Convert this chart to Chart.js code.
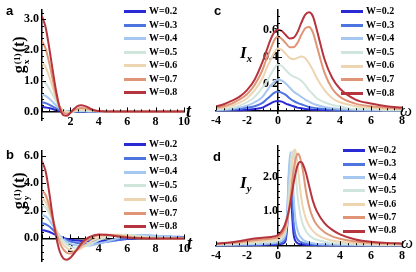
<!DOCTYPE html>
<html>
<head>
<meta charset="utf-8">
<script src="https://cdn.jsdelivr.net/npm/chart.js@4.4.1/dist/chart.umd.min.js"></script>
<style>
  body { margin: 0; width: 416px; height: 272px; position: relative; background: #fff; overflow: hidden; font-family: "Liberation Serif", serif; }
  canvas { position: absolute; }
  .t { position: absolute; color: #000; font-weight: bold; white-space: nowrap; line-height: 1; }
  .panel { font-family: "Liberation Sans", sans-serif; font-size: 13px; }
  .leg { position: absolute; font-size: 10px; font-weight: bold; line-height: 1; white-space: nowrap; }
  .leg i { display: inline-block; width: 22px; height: 3px; vertical-align: middle; margin-right: 3px; }
  .rot { transform: rotate(-90deg); transform-origin: center center; }
  .ss { display: inline-block; font-size: 58%; line-height: 0.95; vertical-align: -0.5em; text-align: left; margin: 0 1px; }
  .ss span { display: block; }
  sub { font-size: 62%; line-height: 0; }
</style>
</head>
<body>
<canvas id="ca" width="208" height="136" style="left:0;top:0"></canvas>
<canvas id="cb" width="208" height="136" style="left:0;top:136px"></canvas>
<canvas id="cc" width="208" height="136" style="left:208px;top:0"></canvas>
<canvas id="cd" width="208" height="136" style="left:208px;top:136px"></canvas>

<div class="t panel" style="left:6px;top:4px">a</div>
<div class="t panel" style="left:6px;top:148px">b</div>
<div class="t panel" style="left:214px;top:4px">c</div>
<div class="t panel" style="left:213px;top:150px">d</div>

<div class="t rot" style="left:-7px;top:45px;font-size:16px;width:56px;text-align:center">g<span class="ss"><span>(1)</span><span>x</span></span>(t)</div>
<div class="t rot" style="left:-7px;top:181px;font-size:16px;width:56px;text-align:center">g<span class="ss"><span>(1)</span><span>y</span></span>(t)</div>
<div class="t" style="left:186px;top:102px;font-size:18px;font-style:italic">t</div>
<div class="t" style="left:187px;top:234px;font-size:18px;font-style:italic">t</div>
<div class="t" style="left:240px;top:44px;font-size:17px;font-style:italic">I<sub>x</sub></div>
<div class="t" style="left:240px;top:174px;font-size:17px;font-style:italic">I<sub>y</sub></div>
<div class="t" style="left:400px;top:102px;font-size:17px;font-style:italic;font-weight:normal">ω</div>
<div class="t" style="left:401px;top:234px;font-size:17px;font-style:italic;font-weight:normal">ω</div>

<div id="legends"></div>

<script>
const W = [0.2, 0.3, 0.4, 0.5, 0.6, 0.7, 0.8];
const colors = ['#2a2ad4', '#4e74e0', '#a6c7f0', '#d0e5dc', '#eed5b2', '#df9576', '#b5343d'];

// panel a/b time grid
const tGrid = [0, 0.25, 0.5, 0.75, 1, 1.25, 1.5, 1.75, 2, 2.25, 2.5, 2.75, 3, 3.25, 3.5, 3.75, 4,
  4.5, 5, 5.5, 6, 6.5, 7, 7.5, 8, 9, 10];

// g_x^(1)(t), one row per W
const gxVals = [
  [0.15, 0.13, 0.11, 0.08, 0.04, 0.02, 0.005, 0, 0, 0, 0, 0, 0, 0, 0, 0, 0, 0, 0, 0, 0, 0, 0, 0, 0, 0, 0],
  [0.3, 0.27, 0.22, 0.16, 0.1, 0.04, 0.01, 0, 0, 0, 0, 0, 0, 0, 0, 0, 0, 0, 0, 0, 0, 0, 0, 0, 0, 0, 0],
  [0.55, 0.51, 0.42, 0.31, 0.19, 0.09, 0.03, 0, -0.01, 0, 0.01, 0.01, 0.01, 0, 0, 0, 0, 0, 0, 0, 0, 0, 0, 0, 0, 0, 0],
  [1.0, 0.92, 0.75, 0.54, 0.33, 0.15, 0.05, 0, -0.01, 0, 0.02, 0.03, 0.03, 0.02, 0.01, 0.01, 0, 0, 0, 0, 0, 0, 0, 0, 0, 0, 0],
  [1.6, 1.45, 1.15, 0.78, 0.43, 0.16, 0.02, -0.03, -0.02, 0.01, 0.04, 0.06, 0.06, 0.05, 0.03, 0.02, 0.01, 0, 0, 0, 0, 0, 0, 0, 0, 0, 0],
  [2.3, 2.05, 1.6, 1.05, 0.52, 0.13, -0.05, -0.08, -0.03, 0.04, 0.09, 0.11, 0.1, 0.08, 0.05, 0.02, 0.01, 0, 0, 0, 0, 0, 0, 0, 0, 0, 0],
  [3.1, 2.75, 2.1, 1.35, 0.65, 0.12, -0.12, -0.14, -0.05, 0.08, 0.17, 0.2, 0.18, 0.13, 0.07, 0.03, 0.01, 0, 0, 0, 0, 0, 0, 0, 0, 0, 0]
];

// g_y^(1)(t)
const gyVals = [
  [0.6, 0.56, 0.48, 0.37, 0.24, 0.12, 0.03, -0.04, -0.09, -0.13, -0.16, -0.18, -0.2, -0.21, -0.21, -0.21, -0.2, -0.18, -0.14, -0.1, -0.05, 0, 0.04, 0.07, 0.09, 0.1, 0.08],
  [1.1, 1.03, 0.88, 0.65, 0.4, 0.17, 0, -0.13, -0.22, -0.28, -0.33, -0.36, -0.38, -0.39, -0.38, -0.36, -0.33, -0.27, -0.18, -0.09, 0, 0.07, 0.12, 0.15, 0.16, 0.14, 0.1],
  [1.7, 1.6, 1.35, 0.95, 0.55, 0.2, -0.05, -0.25, -0.38, -0.47, -0.52, -0.55, -0.55, -0.53, -0.5, -0.45, -0.38, -0.25, -0.1, 0.05, 0.17, 0.23, 0.25, 0.24, 0.2, 0.12, 0.05],
  [2.45, 2.25, 1.85, 1.25, 0.65, 0.15, -0.2, -0.45, -0.6, -0.68, -0.7, -0.67, -0.6, -0.5, -0.38, -0.25, -0.13, 0.07, 0.2, 0.27, 0.27, 0.22, 0.16, 0.1, 0.06, 0.02, 0],
  [2.9, 2.65, 2.1, 1.35, 0.6, -0.05, -0.45, -0.7, -0.85, -0.9, -0.85, -0.72, -0.55, -0.37, -0.2, -0.06, 0.05, 0.2, 0.27, 0.26, 0.2, 0.13, 0.08, 0.04, 0.02, 0, 0],
  [3.5, 3.15, 2.4, 1.4, 0.45, -0.3, -0.8, -1.05, -1.1, -1.0, -0.8, -0.55, -0.3, -0.1, 0.05, 0.15, 0.22, 0.27, 0.25, 0.18, 0.11, 0.06, 0.03, 0.01, 0, 0, 0],
  [5.6, 4.9, 3.4, 1.6, 0.1, -0.95, -1.45, -1.55, -1.4, -1.1, -0.75, -0.4, -0.12, 0.05, 0.17, 0.25, 0.28, 0.27, 0.2, 0.12, 0.06, 0.03, 0.01, 0, 0, 0, 0]
];

// panel c frequency grid and I_x
const wGridC = [-4, -3.5, -3, -2.5, -2, -1.5, -1, -0.75, -0.5, -0.25, 0, 0.25, 0.5, 0.75, 1, 1.25, 1.5, 1.75, 2, 2.25, 2.5, 3, 3.5, 4, 5, 6, 7, 8];
const ixVals = [
  [0, 0, 0, 0, 0.005, 0.01, 0.02, 0.035, 0.05, 0.065, 0.07, 0.065, 0.05, 0.04, 0.03, 0.02, 0.015, 0.01, 0.008, 0.005, 0.004, 0.002, 0, 0, 0, 0, 0, 0],
  [0, 0, 0.005, 0.01, 0.02, 0.03, 0.055, 0.08, 0.105, 0.13, 0.14, 0.13, 0.115, 0.09, 0.07, 0.055, 0.045, 0.035, 0.025, 0.02, 0.015, 0.01, 0.005, 0, 0, 0, 0, 0],
  [0, 0.005, 0.01, 0.02, 0.035, 0.06, 0.1, 0.14, 0.18, 0.21, 0.23, 0.22, 0.2, 0.17, 0.14, 0.12, 0.1, 0.08, 0.065, 0.05, 0.04, 0.025, 0.015, 0.01, 0.005, 0, 0, 0],
  [0.01, 0.01, 0.02, 0.035, 0.06, 0.1, 0.17, 0.21, 0.26, 0.31, 0.34, 0.33, 0.3, 0.27, 0.25, 0.24, 0.22, 0.19, 0.15, 0.12, 0.09, 0.06, 0.04, 0.03, 0.01, 0.01, 0, 0],
  [0.01, 0.02, 0.035, 0.055, 0.09, 0.15, 0.24, 0.31, 0.37, 0.43, 0.46, 0.45, 0.42, 0.39, 0.38, 0.39, 0.4, 0.39, 0.35, 0.3, 0.24, 0.15, 0.09, 0.06, 0.03, 0.02, 0.01, 0.01],
  [0.02, 0.03, 0.05, 0.08, 0.12, 0.19, 0.3, 0.38, 0.45, 0.52, 0.55, 0.53, 0.5, 0.47, 0.47, 0.5, 0.56, 0.61, 0.62, 0.58, 0.48, 0.28, 0.16, 0.1, 0.05, 0.03, 0.02, 0.01],
  [0.03, 0.045, 0.07, 0.1, 0.15, 0.23, 0.36, 0.44, 0.52, 0.58, 0.6, 0.59, 0.56, 0.535, 0.54, 0.58, 0.65, 0.71, 0.73, 0.7, 0.6, 0.38, 0.24, 0.16, 0.08, 0.05, 0.03, 0.02]
];

// panel d frequency grid and I_y
const wGridD = [-4, -3, -2, -1.5, -1, -0.5, 0, 0.25, 0.4, 0.5, 0.6, 0.7, 0.8, 0.9, 1.0, 1.1, 1.2, 1.3, 1.4, 1.5, 1.6, 1.8, 2.0, 2.25, 2.5, 3, 3.5, 4, 5, 6, 7, 8];
const iyVals = [
  [0, 0, 0, 0.005, 0.01, 0.015, 0.025, 0.04, 0.07, 0.15, 0.6, 1.6, 2.1, 1.0, 0.35, 0.15, 0.08, 0.05, 0.035, 0.025, 0.02, 0.012, 0.008, 0.005, 0.004, 0.002, 0, 0, 0, 0, 0, 0],
  [0, 0.01, 0.015, 0.02, 0.025, 0.035, 0.05, 0.08, 0.13, 0.25, 0.9, 2.0, 2.45, 1.6, 0.7, 0.35, 0.22, 0.15, 0.11, 0.09, 0.07, 0.05, 0.035, 0.025, 0.02, 0.01, 0, 0, 0, 0, 0, 0],
  [0.01, 0.015, 0.025, 0.03, 0.04, 0.06, 0.09, 0.14, 0.22, 0.38, 1.1, 2.2, 2.72, 2.5, 1.5, 0.85, 0.55, 0.38, 0.28, 0.22, 0.17, 0.11, 0.08, 0.06, 0.04, 0.03, 0.02, 0.015, 0.01, 0, 0, 0],
  [0.02, 0.03, 0.05, 0.06, 0.08, 0.1, 0.14, 0.21, 0.3, 0.42, 0.75, 1.45, 2.15, 2.7, 2.75, 2.35, 1.75, 1.3, 1.0, 0.78, 0.62, 0.42, 0.3, 0.21, 0.16, 0.1, 0.07, 0.05, 0.03, 0.02, 0.01, 0.01],
  [0.03, 0.05, 0.08, 0.1, 0.12, 0.14, 0.18, 0.26, 0.36, 0.48, 0.7, 1.15, 1.75, 2.3, 2.68, 2.8, 2.6, 2.2, 1.75, 1.4, 1.12, 0.78, 0.58, 0.42, 0.32, 0.2, 0.14, 0.1, 0.06, 0.04, 0.03, 0.02],
  [0.04, 0.07, 0.12, 0.15, 0.17, 0.19, 0.24, 0.33, 0.45, 0.57, 0.75, 1.0, 1.35, 1.75, 2.15, 2.45, 2.63, 2.68, 2.6, 2.42, 2.2, 1.6, 1.15, 0.8, 0.6, 0.38, 0.26, 0.19, 0.11, 0.07, 0.05, 0.04],
  [0.05, 0.09, 0.16, 0.2, 0.22, 0.24, 0.3, 0.42, 0.55, 0.68, 0.82, 1.02, 1.25, 1.52, 1.8, 2.04, 2.24, 2.38, 2.44, 2.44, 2.38, 2.12, 1.75, 1.3, 1.0, 0.65, 0.45, 0.32, 0.17, 0.1, 0.07, 0.05]
];

// tick labels
const tTicks = [2, 4, 6, 8, 10];
const gxTicks = [0, 1, 2, 3];
const gyTicks = [0, 2, 4, 6];
const wTicks = [-4, -2, 0, 2, 4, 6, 8];
const ixTicks = [0.2, 0.4, 0.6];
const iyTicks = [1, 2];

const tickFont = { family: 'Liberation Serif', size: 12, weight: 'bold' };

// Mathematica-style inward ticks drawn through the chart's own scales
const innerTicks = {
  id: 'innerTicks',
  afterDraw(chart, args, opts) {
    const { ctx, scales: { x, y } } = chart;
    const y0 = y.getPixelForValue(0);
    const x0 = opts.yAtZero ? x.getPixelForValue(0) : chart.chartArea.left;
    ctx.save();
    ctx.strokeStyle = '#000';
    ctx.lineWidth = 1;
    const drawX = (step, len) => {
      for (let v = Math.ceil(x.min / step) * step; v <= x.max + 1e-9; v += step) {
        const px = Math.round(x.getPixelForValue(v)) + 0.5;
        ctx.beginPath(); ctx.moveTo(px, y0); ctx.lineTo(px, y0 - len); ctx.stroke();
      }
    };
    const drawY = (step, len) => {
      for (let v = Math.ceil(y.min / step) * step; v <= y.max + 1e-9; v += step) {
        const py = Math.round(y.getPixelForValue(v)) + 0.5;
        ctx.beginPath(); ctx.moveTo(x0, py); ctx.lineTo(x0 + len, py); ctx.stroke();
      }
    };
    drawX(opts.xMinor, 2); drawX(opts.xMajor, 4);
    drawY(opts.yMinor, 2); drawY(opts.yMajor, 4);
    ctx.restore();
  }
};

function makePanel(id, xs, rows, cfg) {
  const datasets = rows.map((row, i) => ({
    label: 'W=' + W[i],
    data: row.map((v, k) => ({ x: xs[k], y: v })),
    borderColor: colors[i],
    borderWidth: 2,
    pointRadius: 0,
    cubicInterpolationMode: 'monotone',
    order: W.length - i
  }));
  const axisBorder = { display: true, color: '#000', width: 1.5 };
  new Chart(document.getElementById(id), {
    type: 'line',
    data: { datasets },
    plugins: [innerTicks],
    options: {
      responsive: false,
      animation: false,
      layout: { padding: cfg.pad },
      plugins: { legend: { display: false }, tooltip: { enabled: false }, innerTicks: cfg.ticks },
      scales: {
        x: {
          type: 'linear', min: cfg.xMin, max: cfg.xMax,
          position: { y: 0 },
          afterBuildTicks: s => { s.ticks = cfg.xTicks.map(v => ({ value: v })); },
          ticks: { font: tickFont, color: '#000', maxRotation: 0, padding: 3, autoSkip: false, callback: v => String(v) },
          grid: { display: false, drawTicks: false },
          border: axisBorder
        },
        y: {
          type: 'linear', min: cfg.yMin, max: cfg.yMax,
          position: cfg.ticks.yAtZero ? { x: 0 } : 'left',
          afterFit: cfg.ticks.yAtZero ? undefined : s => { s.width = cfg.yWidth; },
          afterBuildTicks: s => { s.ticks = cfg.yTicks.map(v => ({ value: v })); },
          ticks: { font: tickFont, color: '#000', padding: 3, autoSkip: false, callback: v => v.toFixed(1) },
          grid: { display: false, drawTicks: false },
          border: axisBorder
        }
      }
    }
  });
}

makePanel('ca', tGrid, gxVals, {
  xMin: 0, xMax: 10, yMin: -0.28, yMax: 3.3, yWidth: 42,
  pad: { left: 0, right: 24, top: 5, bottom: 16 },
  xTicks: tTicks, yTicks: gxTicks,
  ticks: { xMajor: 2, xMinor: 0.5, yMajor: 1, yMinor: 0.2, yAtZero: false }
});
makePanel('cb', tGrid, gyVals, {
  xMin: 0, xMax: 10, yMin: -1.7, yMax: 6.35, yWidth: 42,
  pad: { left: 0, right: 24, top: 15, bottom: 3 },
  xTicks: tTicks, yTicks: gyTicks,
  ticks: { xMajor: 2, xMinor: 0.5, yMajor: 2, yMinor: 0.5, yAtZero: false }
});
makePanel('cc', wGridC, ixVals, {
  xMin: -4, xMax: 8, yMin: -0.02, yMax: 0.745,
  pad: { left: 8, right: 14, top: 2, bottom: 23 },
  xTicks: wTicks, yTicks: ixTicks,
  ticks: { xMajor: 2, xMinor: 0.5, yMajor: 0.2, yMinor: 0.05, yAtZero: true }
});
makePanel('cd', wGridD, iyVals, {
  xMin: -4, xMax: 8, yMin: -0.08, yMax: 2.9,
  pad: { left: 8, right: 14, top: 0, bottom: 24 },
  xTicks: wTicks, yTicks: iyTicks,
  ticks: { xMajor: 2, xMinor: 0.5, yMajor: 1, yMinor: 0.2, yAtZero: true }
});

// legends (one per panel)
const legendSpots = [
  { left: 124, top: 11, gap: 13.5 },
  { left: 124, top: 144, gap: 13.7 },
  { left: 341, top: 11, gap: 13.6 },
  { left: 343, top: 150, gap: 13.4 }
];
const legHost = document.getElementById('legends');
legendSpots.forEach(spot => {
  W.forEach((w, i) => {
    const row = document.createElement('div');
    row.className = 'leg';
    row.style.left = spot.left + 'px';
    row.style.top = (spot.top + spot.gap * i - 5) + 'px';
    row.innerHTML = '<i style="background:' + colors[i] + '"></i>W=' + w;
    legHost.appendChild(row);
  });
});
</script>
</body>
</html>
